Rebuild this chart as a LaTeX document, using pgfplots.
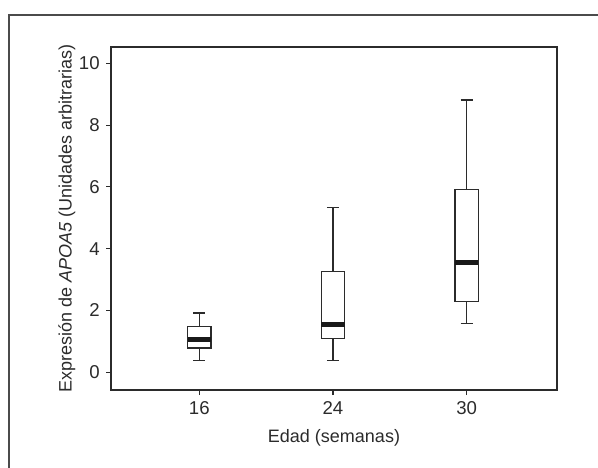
\documentclass[border=0pt]{standalone}
\usepackage{fontspec}
\setmainfont{Liberation Sans}
\usepackage{pgfplots}
\pgfplotsset{compat=1.18}
\usepgfplotslibrary{statistics}
\definecolor{ink}{HTML}{2B2B2B}
\begin{document}
\fontsize{9}{11}\selectfont
\begin{tikzpicture}
% page box and the open frame round the figure
\useasboundingbox (-55.5pt,-38.5pt) rectangle (243.5pt,195pt);
\draw[ink!85, line width=0.55pt] (-51pt,-40pt) -- (-51pt,187.5pt) -- (245pt,187.5pt);
\begin{axis}[
    at={(0,0)}, anchor=south west,
    scale only axis,
    width=223pt, height=171.5pt,
    xmin=0.34, xmax=3.675,
    ymin=-0.58, ymax=10.53,
    xtick={1,2,3}, xticklabels={16,24,30},
    ytick={0,2,4,6,8,10},
    xtick pos=lower, ytick pos=left,
    tick align=outside, major tick length=2.5pt,
    axis line style={ink, line width=0.75pt},
    every tick/.style={ink, line width=0.6pt},
    tick label style={font=\fontsize{9.3}{11}\selectfont, text=ink},
    /pgf/number format/assume math mode=true,
    xlabel={Edad (semanas)},
    ylabel={Expresión de \textit{APOA5} (Unidades arbitrarias)},
    label style={font=\fontsize{9}{11}\selectfont, text=ink},
    xlabel style={at={(axis description cs:0.5,-0.14)}, anchor=center},
    ylabel style={at={(axis description cs:-0.0987,0.5)}, anchor=center},
    boxplot/draw direction=y,
    boxplot/every median/.style={line width=2.5pt, black!90},
    boxplot/box extend=0.174,
    boxplot/whisker extend=0.09,
]
% 16 semanas
\addplot[ink, line width=0.75pt, boxplot prepared={draw position=1,
    lower whisker=0.37, lower quartile=0.78, median=1.06,
    upper quartile=1.47, upper whisker=1.92}] coordinates {};
% 24 semanas
\addplot[ink, line width=0.75pt, boxplot prepared={draw position=2,
    lower whisker=0.37, lower quartile=1.09, median=1.53,
    upper quartile=3.26, upper whisker=5.33}] coordinates {};
% 30 semanas
\addplot[ink, line width=0.75pt, boxplot prepared={draw position=3,
    lower whisker=1.57, lower quartile=2.28, median=3.55,
    upper quartile=5.92, upper whisker=8.81}] coordinates {};
\end{axis}
\end{tikzpicture}
\end{document}
